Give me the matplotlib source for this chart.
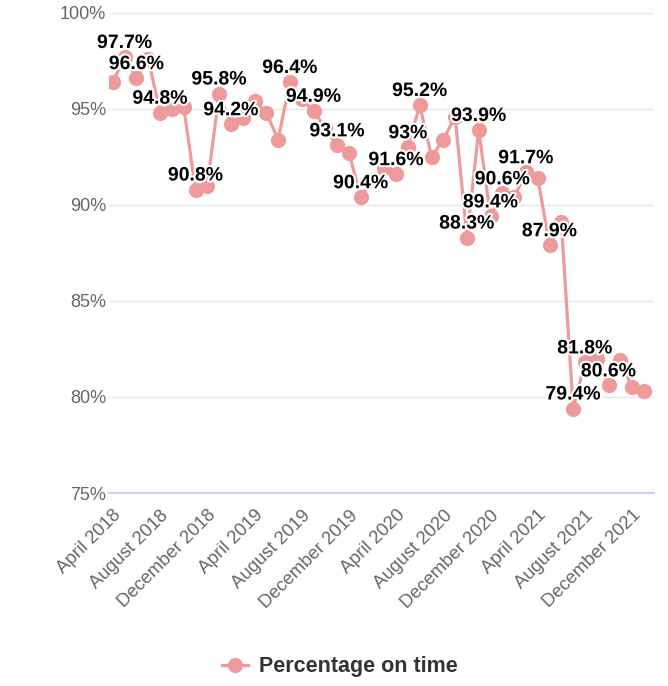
import numpy as np
import pandas as pd
import matplotlib
matplotlib.use("Agg")
from matplotlib import pyplot as plt
from matplotlib import patheffects as pe

plt.rcParams['font.family'] = ['Liberation Sans', 'DejaVu Sans']

# Monthly categories, April 2018 to January 2022
months = pd.date_range("2018-04-01", "2022-01-01", freq="MS")
month_names = [d.strftime("%B %Y") for d in months]

on_time = [96.4, 97.7, 96.6, 97.6, 94.8, 95.0, 95.1, 90.8, 91.0,
           95.8, 94.2, 94.5, 95.4, 94.8, 93.4, 96.4, 95.5, 94.9, 94.0, 93.1, 92.7,
           90.4, 91.3, 91.9, 91.6, 93.0, 95.2, 92.5, 93.4, 94.6, 88.3, 93.9, 89.4,
           90.6, 90.4, 91.7, 91.4, 87.9, 89.1, 79.4, 81.8, 82.0, 80.6, 81.9, 80.5,
           80.3]

# Points whose data label is visible in the chart
labelled = ["May 2018", "June 2018", "August 2018", "November 2018",
            "January 2019", "February 2019", "July 2019", "September 2019",
            "November 2019", "January 2020", "April 2020", "May 2020",
            "June 2020", "October 2020", "November 2020", "December 2020",
            "January 2021", "March 2021", "May 2021", "July 2021",
            "August 2021", "October 2021"]

tick_labels = ["April 2018", "August 2018", "December 2018", "April 2019",
               "August 2019", "December 2019", "April 2020", "August 2020",
               "December 2020", "April 2021", "August 2021", "December 2021"]

y_ticks = [75, 80, 85, 90, 95, 100]

color = "#EF9A9A"

fig = plt.figure(figsize=(6.68, 6.86), dpi=100)
ax = fig.add_axes([0.163, 0.2813, 0.816, 0.7])

x = np.arange(len(on_time))
line, = ax.plot(x, on_time, color=color, lw=2.3, marker="o", ms=11,
                markeredgewidth=0, zorder=3, label="Percentage on time")

outline = [pe.withStroke(linewidth=3, foreground="white")]
for name in labelled:
    i = month_names.index(name)
    v = on_time[i]
    ax.annotate(f"{v:g}%", (i, v), xytext=(0, 6.5), textcoords="offset points",
                ha="center", va="baseline", fontsize=14, fontweight="bold",
                color="black", path_effects=outline, zorder=5)

ax.set_xlim(-0.34, 45.85)
ax.set_ylim(75, 100)
ax.set_yticks(y_ticks)
ax.set_yticklabels([f"{v}%" for v in y_ticks], fontsize=13, color="#666666")
ax.set_xticks([month_names.index(t) for t in tick_labels])
ax.set_xticklabels(tick_labels, rotation=45, ha="right", va="top",
                   rotation_mode="anchor", fontsize=13.2, color="#666666")
ax.tick_params(axis="both", length=0)
ax.tick_params(axis="y", pad=2)
ax.tick_params(axis="x", pad=10)

ax.grid(axis="y", color="#e6e6e6", lw=1)
ax.set_axisbelow(True)
for s in ["top", "right", "left"]:
    ax.spines[s].set_visible(False)
ax.spines["bottom"].set_color("#ccd6eb")
ax.spines["bottom"].set_linewidth(1.5)

fig.legend(handles=[line], loc="center", bbox_to_anchor=(0.509, 0.028),
           frameon=False, handlelength=1.2, handletextpad=0.55,
           prop={"size": 15.5, "weight": "bold"}, labelcolor="#333333")

fig.savefig("out.png", dpi=100)
